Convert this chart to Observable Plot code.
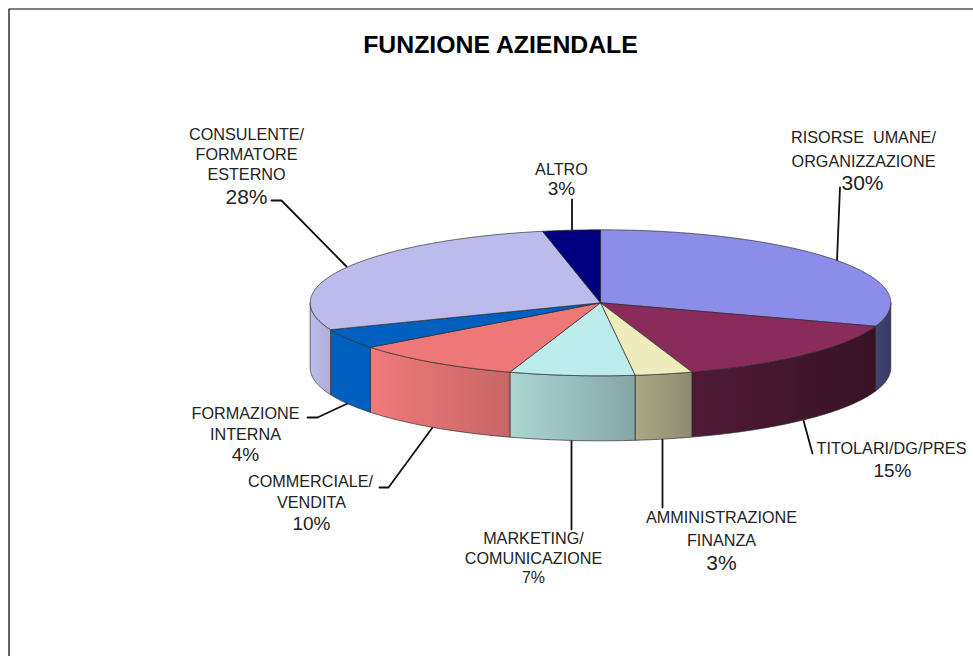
<!DOCTYPE html>
<html>
<head>
<meta charset="utf-8">
<style>html,body{margin:0;padding:0;background:#fff}svg{display:block}</style>
<script src="https://cdn.jsdelivr.net/npm/d3@7"></script>
<script src="https://cdn.jsdelivr.net/npm/@observablehq/plot@0.6"></script>
</head>
<body>
<script>
// Data, clockwise from twelve o'clock (slice sizes; printed labels are rounded)
const categories = ["RISORSE UMANE/ORGANIZZAZIONE","TITOLARI/DG/PRES","AMMINISTRAZIONE FINANZA","MARKETING/COMUNICAZIONE","COMMERCIALE/VENDITA","FORMAZIONE INTERNA","CONSULENTE/FORMATORE ESTERNO","ALTRO"];
const shares = [30.2,14.7,3.2,6.95,9.52,4.43,27.8,3.2];

// Styles
const topColors = ["#8c8ce9","#8a2c5b","#eeecbc","#bcecec","#ee7777","#0060c0","#bbbbec","#000080"];
const sideFrom  = ["#43436f","#4f1b37","#aaa984","#abd6d4","#f07a7a","#0060c0","#bcbce6","#000060"];
const sideTo    = ["#3a3a66","#381324","#8c8b70","#85a6a6","#c86666","#0060c0","#b0b0dc","#000060"];

// Layout
const W = 973, H = 656;
const cx = 600, cy = 302.3, rx = 290.3, ry = 73, depth = 65;

// Label lines: text, centre, baseline, font size
const labelText = ["CONSULENTE/","FORMATORE","ESTERNO","28%","ALTRO","3%","RISORSE  UMANE/","ORGANIZZAZIONE","30%","TITOLARI/DG/PRES","15%","AMMINISTRAZIONE","FINANZA","3%","MARKETING/","COMUNICAZIONE","7%","COMMERCIALE/","VENDITA","10%","FORMAZIONE","INTERNA","4%"];
const labelX = [246,246,246,246,561,561,863,863,862,891,892,721,721,721,533,533,533,310,311,311,245,245,245];
const labelY = [139,159,179,203,174,194,142,166,189,453,476,522,545,569,543,563,582,486,507,529,418,439,460];
const labelSize = [16.2,16.2,16.2,21,16.2,19,16.2,16.2,21,16.2,19,16.2,16.2,21,16.2,16.2,16,16.2,16.2,19,16.2,16.2,19];

// Leader polylines
const leaders = [
  [[271,200],[281,200],[346,266]],
  [[571.5,199],[571.5,229]],
  [[839.5,187],[836.5,260]],
  [[803,420],[812,453]],
  [[662,438],[662,507]],
  [[571,440],[571,529]],
  [[432,427],[388,487],[379,487]],
  [[347,403],[317,417],[307,417]]
];

// Slice geometry derived from the shares
const total = d3.sum(shares);
const cum = d3.cumsum(shares);
const ang = v => (v / total) * 2 * Math.PI;
const px = a => cx + rx * Math.sin(a);
const py = (a, dz = 0) => cy - ry * Math.cos(a) + dz;
function arcPts(a0, a1, dz = 0) {
  const n = Math.max(2, Math.ceil((a1 - a0) / 0.01));
  return d3.range(n + 1).map(i => { const a = a0 + (a1 - a0) * i / n; return {x: px(a), y: py(a, dz)}; });
}
const slices = shares.map((s, i) => ({i, a0: ang(cum[i] - s), a1: ang(cum[i])}));
const topPoly = s => { const c = {x: cx, y: cy}; return [c, ...arcPts(s.a0, s.a1), c]; };
function sidePoly(s) {
  const a0 = Math.max(s.a0, Math.PI / 2), a1 = Math.min(s.a1, Math.PI * 1.5);
  if (a1 <= a0) return null;
  const t = arcPts(a0, a1), b = arcPts(a0, a1, depth).reverse();
  return [...t, ...b, t[0]];
}

const defs = (index, scales, values, dims, ctx) => {
  const d = d3.select(ctx.document.createElementNS("http://www.w3.org/2000/svg", "defs"));
  shares.forEach((_, i) => {
    const g = d.append("linearGradient").attr("id", "side" + i);
    g.append("stop").attr("offset", "0%").attr("stop-color", sideFrom[i]);
    g.append("stop").attr("offset", "100%").attr("stop-color", sideTo[i]);
  });
  return d.node();
};

const edge = {x: "x", y: "y", stroke: "#2a2a2a", strokeWidth: 0.8, strokeOpacity: 0.85};

const chart = Plot.plot({
  width: W, height: H,
  margin: 0,
  x: {domain: [0, W], range: [0, W], axis: null},
  y: {domain: [0, H], range: [0, H], axis: null},
  style: {background: "#fff", fontFamily: "'Liberation Sans', Arial, sans-serif"},
  marks: [
    defs,
    Plot.line([{x:8.5,y:H},{x:8.5,y:8.5},{x:W,y:8.5}], {x:"x", y:"y", stroke:"#000", strokeWidth:1.2}),
    ...leaders.map(l => Plot.line(l.map(([x,y]) => ({x,y})), {x:"x", y:"y", stroke:"#111", strokeWidth:1.8})),
    ...slices.flatMap(s => {
      const p = sidePoly(s);
      return p ? [Plot.line(p, {...edge, fill: `url(#side${s.i})`})] : [];
    }),
    ...slices.map(s => Plot.line(topPoly(s), {...edge, fill: topColors[s.i]})),
    Plot.text(labelText.map((t, i) => ({t, x: labelX[i], y: labelY[i], s: labelSize[i]})), {
      x: "x", y: "y", text: "t", fontSize: d => d.s, textAnchor: "middle", lineAnchor: "bottom", fill: "#222"
    }),
    Plot.text(["FUNZIONE AZIENDALE"], {
      x: () => 500, y: () => 52, text: d => d, fontSize: 24.8, fontWeight: "bold", textAnchor: "middle", lineAnchor: "bottom", fill: "#000"
    })
  ]
});
document.body.appendChild(chart);
</script>
</body>
</html>
